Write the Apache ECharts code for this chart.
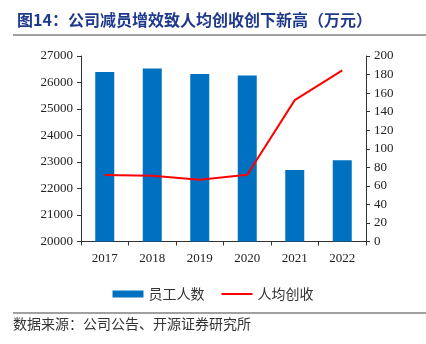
<!DOCTYPE html>
<html>
<head>
<meta charset="utf-8">
<script src="https://cdn.jsdelivr.net/npm/echarts@6/dist/echarts.min.js"></script>
<style>
  html, body { margin: 0; padding: 0; background: #fff; }
  #chart { width: 426px; height: 344px; }
</style>
</head>
<body>
<div id="chart"></div>
<script>
// Years on the category axis
const years = ['2017', '2018', '2019', '2020', '2021', '2022'];
// Headcount (left axis)
const staffCount = [26400, 26530, 26320, 26260, 22700, 23070];
// Revenue per employee, 10k CNY (right axis)
const revenuePerHead = [71.7, 71, 66.7, 72, 152.4, 184.6];

const serif = '"Times New Roman", "Liberation Serif", serif';
const cjk = '"Noto Sans CJK SC", sans-serif';

const chart = echarts.init(document.getElementById('chart'));
chart.setOption({
  animation: false,
  backgroundColor: '#fff',
  title: {
    text: '图14：公司减员增效致人均创收创下新高（万元）',
    left: 12, top: 7,
    textStyle: { fontFamily: cjk, fontSize: 16, fontWeight: 'bold', color: '#1F3A8C' }
  },
  graphic: [
    { type: 'line', shape: { x1: 13, y1: 35, x2: 426, y2: 35 }, style: { stroke: '#808080', lineWidth: 1.5 } },
    { type: 'line', shape: { x1: 13, y1: 313, x2: 426, y2: 313 }, style: { stroke: '#808080', lineWidth: 1.5 } },
    { type: 'text', left: 13, top: 317, style: { text: '数据来源：公司公告、开源证券研究所', font: '14px ' + cjk, fill: '#333' } }
  ],
  legend: {
    top: 282, left: 'center',
    itemGap: 17,
    itemWidth: 31, itemHeight: 7,
    textStyle: { fontFamily: cjk, fontSize: 14, color: '#333' },
    data: [
      { name: '员工人数', icon: 'rect' },
      { name: '人均创收', icon: 'path://M0,0 L31,0 L31,2 L0,2 Z' }
    ]
  },
  grid: { left: 81, right: 60, top: 56, bottom: 102.5 },
  xAxis: {
    type: 'category',
    data: years,
    axisLine: { lineStyle: { color: '#333', width: 1 } },
    axisTick: { show: true, alignWithLabel: false, length: 4, lineStyle: { color: '#333' } },
    axisLabel: { fontFamily: serif, fontSize: 13, color: '#222', margin: 11 }
  },
  yAxis: [
    {
      type: 'value', min: 20000, max: 27000, interval: 1000,
      axisLine: { show: true, lineStyle: { color: '#333' } },
      axisTick: { show: true, inside: false, length: 4, lineStyle: { color: '#333' } },
      splitLine: { show: false },
      axisLabel: { fontFamily: serif, fontSize: 13, color: '#222', margin: 8, formatter: v => String(v) }
    },
    {
      type: 'value', min: 0, max: 200, interval: 20,
      axisLine: { show: true, lineStyle: { color: '#333' } },
      axisTick: { show: true, length: 4, lineStyle: { color: '#333' } },
      splitLine: { show: false },
      axisLabel: { fontFamily: serif, fontSize: 13, color: '#222', margin: 8 }
    }
  ],
  series: [
    {
      name: '员工人数', type: 'bar', yAxisIndex: 0,
      data: staffCount, barWidth: 19,
      itemStyle: { color: '#0070C0' }
    },
    {
      name: '人均创收', type: 'line', yAxisIndex: 1,
      data: revenuePerHead, symbol: 'none',
      lineStyle: { color: '#FF0000', width: 2 },
      itemStyle: { color: '#FF0000' }
    }
  ]
});
</script>
</body>
</html>
